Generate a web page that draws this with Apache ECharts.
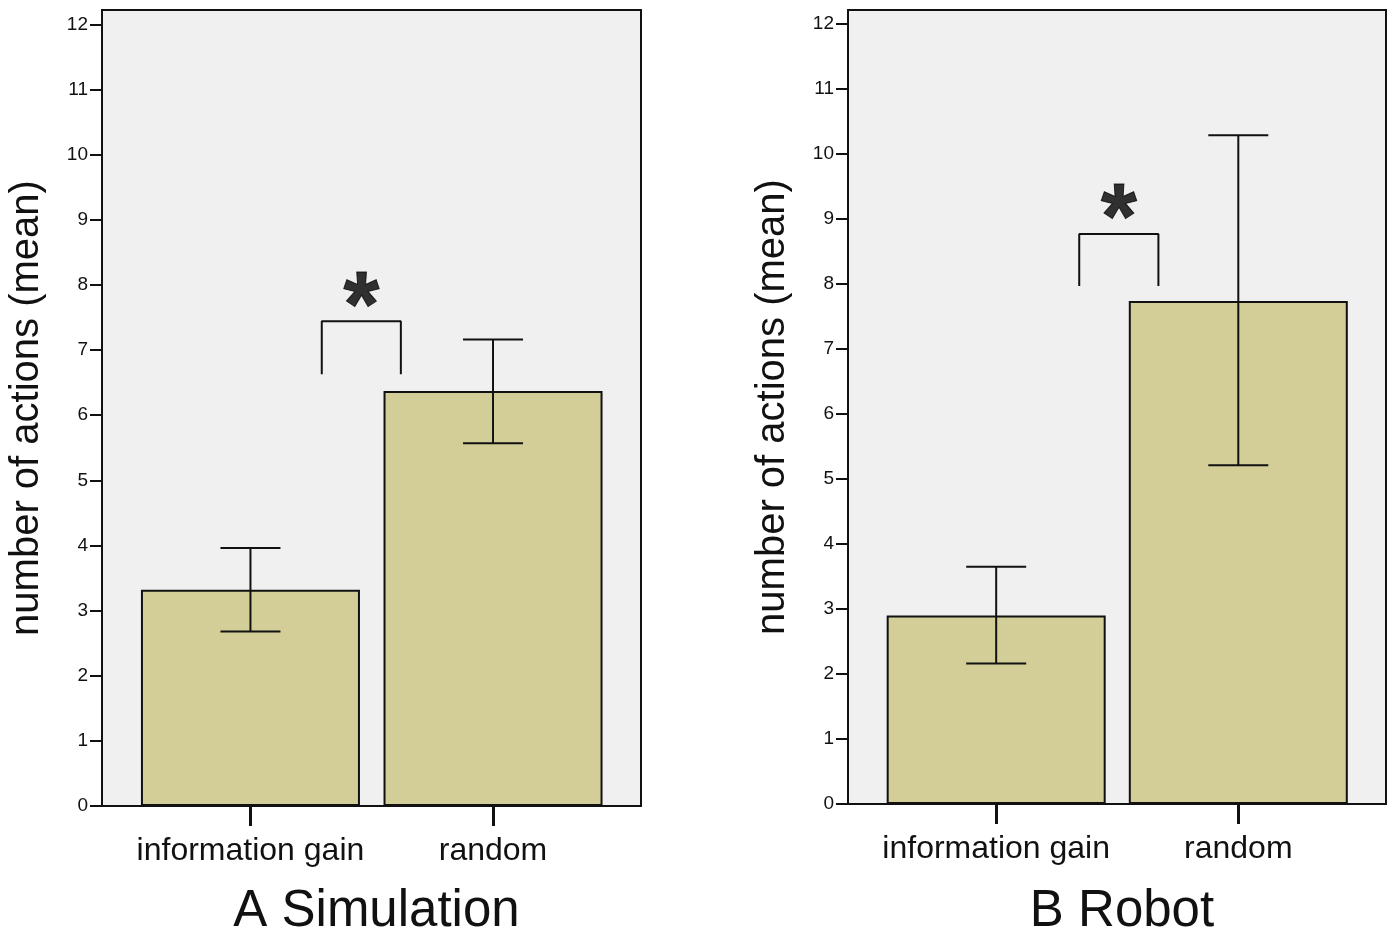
<!DOCTYPE html>
<html>
<head>
<meta charset="utf-8">
<script src="https://cdn.jsdelivr.net/npm/echarts@6/dist/echarts.min.js"></script>
<style>
  html, body { margin: 0; padding: 0; background: #fff; }
  #chart { width: 1388px; height: 934px; }
</style>
</head>
<body>
<div id="chart"></div>
<script>
// Mean number of actions per strategy, with error bars
const categories = ['information gain', 'random'];
const yTicks = [0, 1, 2, 3, 4, 5, 6, 7, 8, 9, 10, 11, 12];
const panelTitles = ['A Simulation', 'B Robot'];
const yAxisTitle = 'number of actions (mean)';

const simMeans = [3.32, 6.37];
const simLow = [2.68, 5.57];
const simHigh = [3.96, 7.16];

const robotMeans = [2.90, 7.74];
const robotLow = [2.16, 5.21];
const robotHigh = [3.65, 10.29];

// significance brackets (x in category units, y in actions)
const simBracket = [[0.294, 6.63], [0.294, 7.44], [0.62, 7.44], [0.62, 6.63]];
const robotBracket = [[0.343, 7.97], [0.343, 8.77], [0.67, 8.77], [0.67, 7.97]];
const simStar = [0.457, 7.95];
const robotStar = [0.507, 9.29];

const FONT = '"Liberation Sans", Arial, Helvetica, sans-serif';
const INK = '#111';
const BAR_FILL = '#d3ce98';
const PLOT_BG = '#f0f0f0';

const grids = [
  { left: 102, top: 10, width: 539, height: 796 },
  { left: 848, top: 10, width: 538, height: 794 }
];

function xAxisFor(i) {
  return {
    type: 'value', gridIndex: i, min: -0.612, max: 1.61,
    axisLine: { show: true, onZero: false, lineStyle: { color: INK, width: 2 } },
    axisTick: { show: true, customValues: [0, 1], length: 20, lineStyle: { color: INK, width: 3 } },
    axisLabel: {
      customValues: [0, 1], margin: 29,
      formatter: v => categories[Math.round(v)],
      fontFamily: FONT, fontSize: 32, color: INK
    },
    splitLine: { show: false }
  };
}

function yAxisFor(i, max) {
  return {
    type: 'value', gridIndex: i, min: 0, max: max,
    name: yAxisTitle, nameLocation: 'middle', nameGap: 55, nameRotate: 90,
    nameTextStyle: { fontFamily: FONT, fontSize: 40, color: INK },
    axisLine: { show: true, onZero: false, lineStyle: { color: INK, width: 2 } },
    axisTick: { show: true, customValues: yTicks, length: 12, lineStyle: { color: INK, width: 2 } },
    axisLabel: { customValues: yTicks, margin: 14, fontFamily: FONT, fontSize: 19, color: INK },
    splitLine: { show: false }
  };
}

function barSeries(i, means) {
  return {
    type: 'bar', xAxisIndex: i, yAxisIndex: i,
    barWidth: 219,
    data: means.map((m, k) => [k, m]),
    itemStyle: { color: BAR_FILL, borderColor: INK, borderWidth: 2 },
    silent: true, z: 2
  };
}

function errorSeries(i, low, high) {
  return {
    type: 'custom', xAxisIndex: i, yAxisIndex: i,
    data: low.map((l, k) => [k, l, high[k]]),
    renderItem: (params, api) => {
      const x = api.value(0);
      const lo = api.coord([x, api.value(1)]);
      const hi = api.coord([x, api.value(2)]);
      const half = 30;
      const style = { stroke: INK, lineWidth: 2 };
      return {
        type: 'group',
        children: [
          { type: 'line', shape: { x1: lo[0], y1: lo[1], x2: hi[0], y2: hi[1] }, style },
          { type: 'line', shape: { x1: lo[0] - half, y1: lo[1], x2: lo[0] + half, y2: lo[1] }, style },
          { type: 'line', shape: { x1: hi[0] - half, y1: hi[1], x2: hi[0] + half, y2: hi[1] }, style }
        ]
      };
    },
    silent: true, z: 5
  };
}

function bracketSeries(i, pts) {
  return {
    type: 'line', xAxisIndex: i, yAxisIndex: i,
    data: pts, symbol: 'none', silent: true,
    lineStyle: { color: INK, width: 2 }, z: 5
  };
}

function starSeries(i, pt) {
  return {
    type: 'scatter', xAxisIndex: i, yAxisIndex: i,
    data: [pt], symbolSize: 0, silent: true,
    itemStyle: { color: INK },
    label: {
      show: true, position: 'inside', formatter: '*',
      fontFamily: FONT, fontWeight: 'bold', fontSize: 92, color: '#000',
      textBorderWidth: 1, textBorderColor: '#000',
      offset: [0, 22]
    },
    z: 6
  };
}

const chart = echarts.init(document.getElementById('chart'), null, { renderer: 'canvas' });
chart.setOption({
  animation: false,
  backgroundColor: '#ffffff',
  title: panelTitles.map((t, i) => ({
    text: t,
    left: grids[i].left + grids[i].width / 2,
    top: 881,
    textAlign: 'center',
    textStyle: { fontFamily: FONT, fontSize: 51, fontWeight: 'normal', color: INK }
  })),
  grid: grids.map(g => Object.assign({}, g, {
    show: true, backgroundColor: PLOT_BG, borderColor: INK, borderWidth: 2
  })),
  xAxis: [xAxisFor(0), xAxisFor(1)],
  yAxis: [yAxisFor(0, 12.22), yAxisFor(1, 12.215)],
  series: [
    barSeries(0, simMeans),
    errorSeries(0, simLow, simHigh),
    bracketSeries(0, simBracket),
    starSeries(0, simStar),
    barSeries(1, robotMeans),
    errorSeries(1, robotLow, robotHigh),
    bracketSeries(1, robotBracket),
    starSeries(1, robotStar)
  ]
});
</script>
</body>
</html>
